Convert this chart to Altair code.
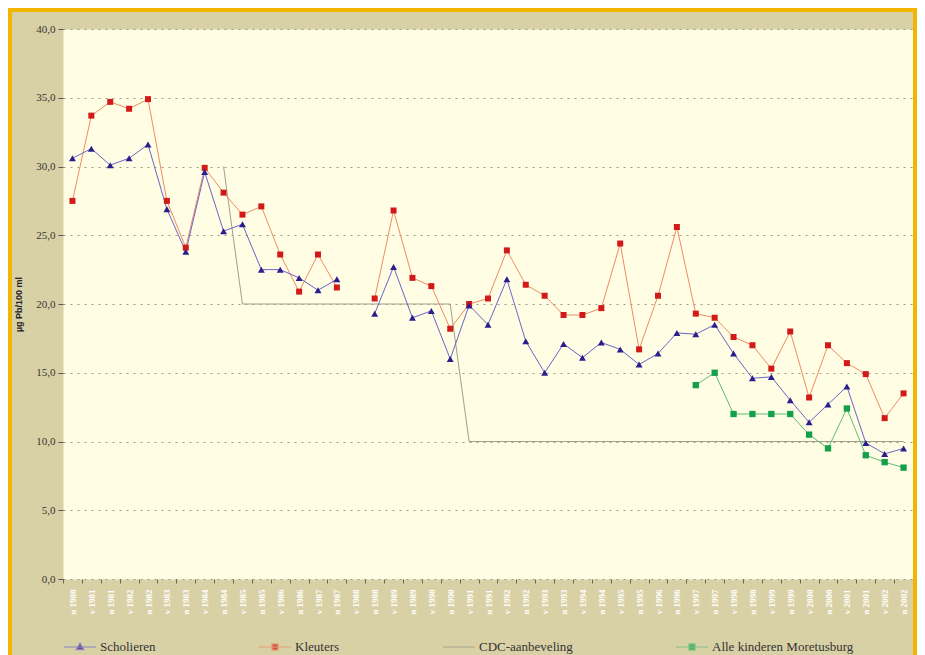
import altair as alt
import pandas as pd

# ---- data ----
x_labels = [
    "n 1980", "v 1981", "n 1981", "v 1982", "n 1982", "v 1983", "n 1983", "v 1984",
    "n 1984", "v 1985", "n 1985", "v 1986", "n 1986", "v 1987", "n 1987", "v 1988",
    "n 1988", "v 1989", "n 1989", "v 1990", "n 1990", "v 1991", "n 1991", "v 1992",
    "n 1992", "v 1993", "n 1993", "v 1994", "n 1994", "v 1995", "n 1995", "v 1996",
    "n 1996", "v 1997", "n 1997", "v 1998", "n 1998", "v 1999", "n 1999", "v 2000",
    "n 2000", "v 2001", "n 2001", "v 2002", "n 2002",
]

scholieren = [
    30.6, 31.3, 30.1, 30.6, 31.6, 26.9, 23.8, 29.6, 25.3, 25.8,
    22.5, 22.5, 21.9, 21.0, 21.8, None, 19.3, 22.7, 19.0, 19.5,
    16.0, 19.9, 18.5, 21.8, 17.3, 15.0, 17.1, 16.1, 17.2, 16.7,
    15.6, 16.4, 17.9, 17.8, 18.5, 16.4, 14.6, 14.7, 13.0, 11.4,
    12.7, 14.0, 9.9, 9.1, 9.5,
]

kleuters = [
    27.5, 33.7, 34.7, 34.2, 34.9, 27.5, 24.1, 29.9, 28.1, 26.5,
    27.1, 23.6, 20.9, 23.6, 21.2, None, 20.4, 26.8, 21.9, 21.3,
    18.2, 20.0, 20.4, 23.9, 21.4, 20.6, 19.2, 19.2, 19.7, 24.4,
    16.7, 20.6, 25.6, 19.3, 19.0, 17.6, 17.0, 15.3, 18.0, 13.2,
    17.0, 15.7, 14.9, 11.7, 13.5,
]

cdc = [
    None, None, None, None, None, None, None, None, 30.0, 20.0,
    20.0, 20.0, 20.0, 20.0, 20.0, 20.0, 20.0, 20.0, 20.0, 20.0,
    20.0, 10.0, 10.0, 10.0, 10.0, 10.0, 10.0, 10.0, 10.0, 10.0,
    10.0, 10.0, 10.0, 10.0, 10.0, 10.0, 10.0, 10.0, 10.0, 10.0,
    10.0, 10.0, 10.0, 10.0, 10.0,
]

moretusburg = [
    None, None, None, None, None, None, None, None, None, None,
    None, None, None, None, None, None, None, None, None, None,
    None, None, None, None, None, None, None, None, None, None,
    None, None, None, 14.1, 15.0, 12.0, 12.0, 12.0, 12.0, 10.5,
    9.5, 12.4, 9.0, 8.5, 8.1,
]

y_ticks = [0, 5, 10, 15, 20, 25, 30, 35, 40]

series_names = ["Scholieren", "Kleuters", "CDC-aanbeveling", "Alle kinderen Moretusburg"]
line_colors = ["#6d64c8", "#ec8c64", "#a39f8b", "#5dbb7c"]
marker_colors = ["#2b1e8c", "#d21a1a", "#a39f8b", "#14a04a"]
legend_shapes = [
    "M-1,0H1M0,-0.24L0.23,0.16L-0.23,0.16Z",
    "M-1,0H1M-0.19,-0.19H0.19V0.19H-0.19Z",
    "M-1,0H1",
    "M-1,0H1M-0.19,-0.19H0.19V0.19H-0.19Z",
]

# ---- long table; segments break the lines where a value is missing ----
rows = []
for name, vals in zip(series_names, [scholieren, kleuters, cdc, moretusburg]):
    seg = 0
    for i, (lab, v) in enumerate(zip(x_labels, vals)):
        if v is None:
            seg += 1
            continue
        rows.append({"idx": i, "label": lab, "series": name, "value": v,
                     "seg": f"{name}-{seg}"})
df = pd.DataFrame(rows)

x_enc = alt.X(
    "label:N",
    scale=alt.Scale(type="band", domain=x_labels, paddingInner=0, paddingOuter=0),
    axis=alt.Axis(
        title=None, labelAngle=270, labelColor="#FFFFFF", labelFont="Liberation Serif",
        labelFontSize=9, labelFontWeight="bold", labelPadding=6, labelOverlap=False,
        tickSize=4, tickColor="#6b6650", tickBand="extent", domain=False, grid=False,
    ),
)

y_enc = alt.Y(
    "value:Q",
    scale=alt.Scale(domain=[0, 40], nice=False),
    axis=alt.Axis(
        title="µg Pb/100 ml", values=y_ticks,
        labelExpr="replace(format(datum.value, '.1f'), '.', ',')",
        labelFont="Liberation Serif", labelFontSize=11, labelColor="#333333",
        labelPadding=3, tickSize=5, tickColor="#555555", domain=False,
        grid=True, gridColor="#9c9a88", gridDash=[2, 5], gridWidth=1,
        titleFont="Liberation Sans", titleFontSize=9, titleFontWeight="bold",
        titleColor="#222222", titlePadding=12,
    ),
)

base = alt.Chart(df)


def line(name, color):
    return base.transform_filter(alt.datum.series == name).mark_line(
        strokeWidth=1, color=color
    ).encode(x=x_enc, y=y_enc, detail="seg:N", order=alt.Order("idx:Q"))


def pts(name, shape, size, color):
    return base.transform_filter(alt.datum.series == name).mark_point(
        shape=shape, filled=True, size=size, color=color, opacity=1
    ).encode(x=x_enc, y=y_enc)


line_c = line("CDC-aanbeveling", line_colors[2])
line_g = line("Alle kinderen Moretusburg", line_colors[3])
line_r = line("Kleuters", line_colors[1])
line_b = line("Scholieren", line_colors[0])

pts_g = pts("Alle kinderen Moretusburg", "square", 40, marker_colors[3])
pts_r = pts("Kleuters", "square", 36, marker_colors[1])
pts_b = pts("Scholieren", "triangle-up", 48, marker_colors[0])

leg = alt.Legend(
    title=None, orient="none", legendX=0, legendY=601, direction="horizontal",
    columns=4, columnPadding=100, symbolSize=1024, symbolStrokeWidth=1.2,
    symbolFillColor="#000000", symbolStrokeColor="#000000",
    labelFont="Liberation Serif", labelFontSize=13, labelColor="#333333",
    labelOffset=3, labelLimit=300, padding=0,
)

# invisible (size 0) marks that only carry the legend
legend_layer = base.mark_point(filled=False, size=0, strokeWidth=1.2).encode(
    x=x_enc,
    y=y_enc,
    color=alt.Color("series:N", scale=alt.Scale(domain=series_names, range=line_colors),
                    legend=leg),
    fill=alt.Fill("series:N", scale=alt.Scale(domain=series_names, range=marker_colors),
                  legend=leg),
    shape=alt.Shape("series:N", scale=alt.Scale(domain=series_names, range=legend_shapes),
                    legend=leg),
)

frame = alt.Chart(alt.Data(values=[{}])).mark_rect(
    fillOpacity=0, stroke="#F2B600", strokeWidth=4, clip=False
).encode(
    x=alt.value(-53), x2=alt.value(852), y=alt.value(-19), y2=alt.value(700)
)

chart = alt.layer(
    line_c, line_g, line_r, line_b, pts_g, pts_r, pts_b, legend_layer, frame
).properties(
    width=850,
    height=550,
    padding={"left": 55, "top": 21, "right": 4, "bottom": 76},
    autosize=alt.AutoSizeParams(type="none"),
    background="#D9D1A6",
).configure_view(
    fill="#FFFDE3", stroke="transparent"
)

chart.save("out.html", embed_options={"renderer": "svg", "actions": False})
